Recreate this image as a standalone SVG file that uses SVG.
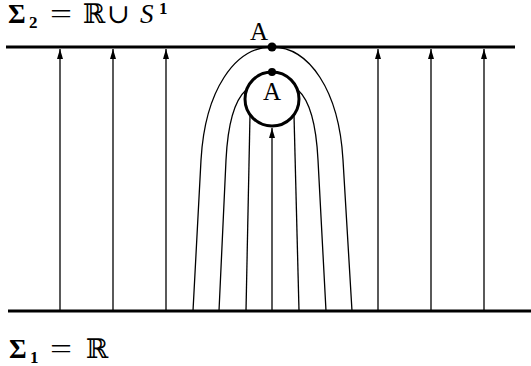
<svg xmlns="http://www.w3.org/2000/svg" width="531" height="366" viewBox="0 0 531 366">
<style>
.base{stroke:#000;stroke-width:3;fill:none}
.fl{stroke:#000;stroke-width:1.3;fill:none}
.t{font-family:"Liberation Serif","DejaVu Serif",serif;fill:#000}
.lbl{font-family:"Liberation Serif","DejaVu Serif",serif;font-size:25px;fill:#000}
</style>
<defs>
<marker id="ah" viewBox="0 0 10 6" refX="10" refY="3" markerWidth="10" markerHeight="6" markerUnits="userSpaceOnUse" orient="auto">
<path d="M0,0 L10,3 L0,6 Z" fill="#000"/>
</marker>
</defs>
<g id="sigma2">
<line class="base" x1="6" y1="47" x2="515" y2="47"/>
<text class="t" font-size="27"><tspan x="8" y="23" font-weight="bold">Σ</tspan><tspan x="29" y="28" font-size="17" font-weight="bold">2</tspan><tspan x="50" y="23" textLength="22" lengthAdjust="spacingAndGlyphs">=</tspan><tspan x="83" y="23">ℝ</tspan><tspan x="107" y="23">∪</tspan><tspan x="140" y="23" font-style="italic">S</tspan><tspan x="159" y="14" font-size="17" font-weight="bold">1</tspan></text>
</g>
<g id="sigma1">
<line class="base" x1="8" y1="311" x2="531" y2="311"/>
<text class="t" font-size="27"><tspan x="9" y="358" font-weight="bold">Σ</tspan><tspan x="30" y="363" font-size="17" font-weight="bold">1</tspan><tspan x="50" y="358" textLength="22" lengthAdjust="spacingAndGlyphs">=</tspan><tspan x="86" y="358">ℝ</tspan></text>
</g>
<g id="circle">
<circle cx="272" cy="99" r="27" stroke="#000" stroke-width="3" fill="none"/>
<circle cx="272" cy="72" r="4" fill="#000"/>
<text class="lbl" x="272" y="100" text-anchor="middle">A</text>
</g>
<g id="pointA">
<circle cx="272" cy="47" r="4.5" fill="#000"/>
<text class="lbl" x="259" y="40" text-anchor="middle">A</text>
</g>
<g id="connectors">
<line class="fl" x1="60" y1="311" x2="60" y2="49" marker-end="url(#ah)"/>
<line class="fl" x1="113" y1="311" x2="113" y2="49" marker-end="url(#ah)"/>
<line class="fl" x1="166" y1="311" x2="166" y2="49" marker-end="url(#ah)"/>
<line class="fl" x1="378" y1="311" x2="378" y2="49" marker-end="url(#ah)"/>
<line class="fl" x1="431" y1="311" x2="431" y2="49" marker-end="url(#ah)"/>
<line class="fl" x1="484" y1="311" x2="484" y2="49" marker-end="url(#ah)"/>
<line class="fl" x1="272" y1="311" x2="272" y2="128" marker-end="url(#ah)"/>
<path class="fl" d="M193,311 L201,160 C205,90 235,47 272,47 C309,47 339,90 343,160 L352,311"/>
<path class="fl" d="M219,311 L226,160 C228,120 235,100 246,90"/>
<path class="fl" d="M326,311 L318,160 C316,120 309,100 298,90"/>
<path class="fl" d="M246,311 L250,115"/>
<path class="fl" d="M299,311 L294,115"/>
</g>
</svg>
